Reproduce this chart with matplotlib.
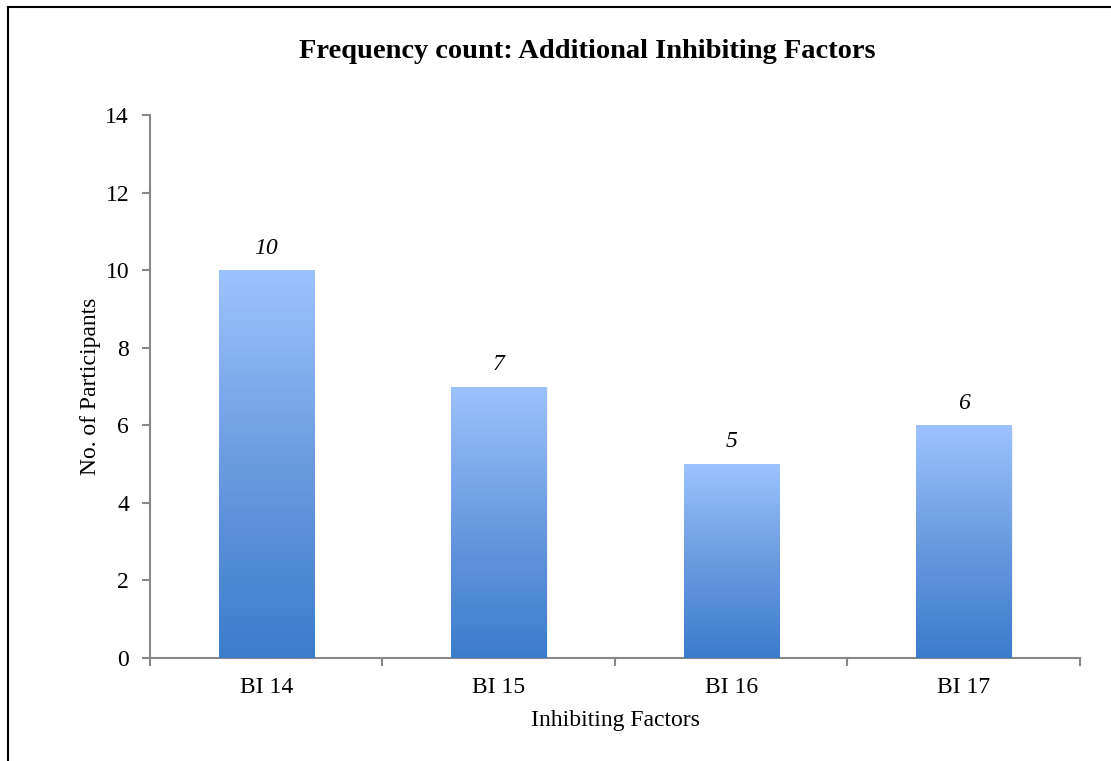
import numpy as np
import matplotlib.pyplot as plt
from matplotlib.colors import LinearSegmentedColormap
from matplotlib.lines import Line2D

categories = ['BI 14', 'BI 15', 'BI 16', 'BI 17']
counts = [10, 7, 5, 6]

plt.rcParams['font.family'] = ['Liberation Serif', 'DejaVu Serif']

fig = plt.figure(figsize=(11.11, 7.61), dpi=100)
ax = fig.add_axes([0.135, 0.1353, 0.837, 0.7136])

x = np.arange(len(categories))
bars = ax.bar(x, counts, width=0.41, color='none', edgecolor='none', zorder=2)

# vertical gradient, dark at bottom, light at top
cmap = LinearSegmentedColormap.from_list('grad', ['#3b7ccc', '#6a9be0', '#9dc3ff'])
grad = np.linspace(0, 1, 256).reshape(-1, 1)
for b in bars:
    x0, y0 = b.get_x(), b.get_y()
    w, h = b.get_width(), b.get_height()
    # soft shadow
    ax.bar(x0 + w / 2 + 0.006, h, width=w, bottom=-0.06, color='#000000', alpha=0.06, zorder=1)
    im = ax.imshow(grad, extent=[x0, x0 + w, y0, y0 + h], origin='lower',
                   cmap=cmap, aspect='auto', zorder=3)
    im.set_clip_path(b)

for xi, v in zip(x, counts):
    ax.text(xi, v + 0.3, str(v), ha='center', va='bottom', fontsize=17, style='italic')

ax.set_xlim(-0.5, len(categories) - 0.5)
ax.set_ylim(0, 14)
ax.set_yticks(range(0, 15, 2))
ax.set_xticks(x)
ax.set_xticklabels(categories)
ax.set_xticks(np.arange(-0.5, len(categories)), minor=True)
ax.tick_params(axis='x', which='major', length=0, labelsize=17, pad=14)
ax.tick_params(axis='x', which='minor', length=6, color='#888888', width=1.5)
ax.tick_params(axis='y', length=6, color='#888888', width=1.5, labelsize=17, pad=9)

for s in ['top', 'right']:
    ax.spines[s].set_visible(False)
for s in ['left', 'bottom']:
    ax.spines[s].set_color('#888888')
    ax.spines[s].set_linewidth(1.5)

ax.set_xlabel('Inhibiting Factors', fontsize=17, labelpad=8)
ax.set_ylabel('No. of Participants', fontsize=17, labelpad=3)

fig.text(0.529, 0.932, 'Frequency count: Additional Inhibiting Factors',
         ha='center', va='center', fontsize=20.5, fontweight='bold')

# frame around the figure (left and top only)
fig.add_artist(Line2D([0.0072, 0.0072], [0, 0.991], color='black', lw=1.5, transform=fig.transFigure))
fig.add_artist(Line2D([0.0072, 1.0], [0.991, 0.991], color='black', lw=1.5, transform=fig.transFigure))

fig.savefig('out.png', dpi=100)
